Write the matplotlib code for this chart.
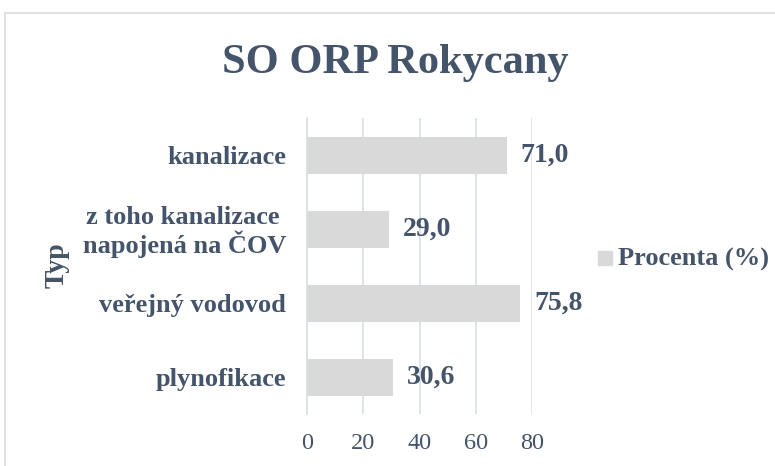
import matplotlib.pyplot as plt
from matplotlib.patches import Rectangle

categories = ['kanalizace', 'z toho kanalizace \nnapojená na ČOV', 'veřejný vodovod', 'plynofikace']
values = [71.0, 29.0, 75.8, 30.6]
xticks = [0, 20, 40, 60, 80]

text_color = '#44546A'
bar_color = '#D9D9D9'
grid_color = '#D9DEE6'

plt.rcParams['font.family'] = ['Liberation Serif', 'DejaVu Serif']

fig = plt.figure(figsize=(7.75, 4.66), dpi=100)
# chart border
fig.patches.append(Rectangle((5 / 775, -0.1), 1.0, (466 - 13) / 466 + 0.1,
                             transform=fig.transFigure, fill=False,
                             edgecolor='#D9DDE3', linewidth=1.2))

ax = fig.add_axes([307 / 775, 1 - 414 / 466, (532 - 307) / 775, (414 - 118) / 466])
y = list(range(len(categories)))
ax.barh(y, values, height=0.5, color=bar_color, zorder=2)
ax.set_ylim(len(categories) - 0.5, -0.5)
ax.set_xlim(0, 80)
ax.set_xticks(xticks)
ax.set_xticklabels([str(t) for t in xticks], fontsize=17.5, color=text_color)
ax.set_yticks(y)
ax.set_yticklabels(categories, fontsize=19, fontweight='bold', color=text_color,
                   linespacing=1.05)
ax.tick_params(axis='both', length=0)
ax.tick_params(axis='y', pad=15)
ax.tick_params(axis='x', pad=14)
ax.grid(axis='x', color=grid_color, linewidth=1.2, zorder=0)
for s in ['top', 'right', 'bottom']:
    ax.spines[s].set_visible(False)
ax.spines['left'].set_color(grid_color)
ax.spines['left'].set_linewidth(1.2)
ax.set_facecolor('none')

for yi, v in zip(y, values):
    ax.text(v + 5, yi, f'{v:.1f}'.replace('.', ','), va='center', ha='left',
            fontsize=20, fontweight='bold', color=text_color)

fig.text(57 / 775, 1 - 265 / 466, 'Typ', rotation=90, ha='center', va='center',
         fontsize=20, fontweight='bold', color=text_color)

fig.text(395.5 / 775, 1 - 63 / 466, 'SO ORP Rokycany', ha='center', va='center',
         fontsize=30.5, fontweight='bold', color=text_color)

# legend
fig.patches.append(Rectangle((598 / 775, 1 - 265 / 466), 14 / 775, 14 / 466,
                             transform=fig.transFigure, color=bar_color))
fig.text(618 / 775, 1 - 259 / 466, 'Procenta (%)', ha='left', va='center',
         fontsize=19, fontweight='bold', color=text_color)

fig.savefig('out.png', dpi=100)
